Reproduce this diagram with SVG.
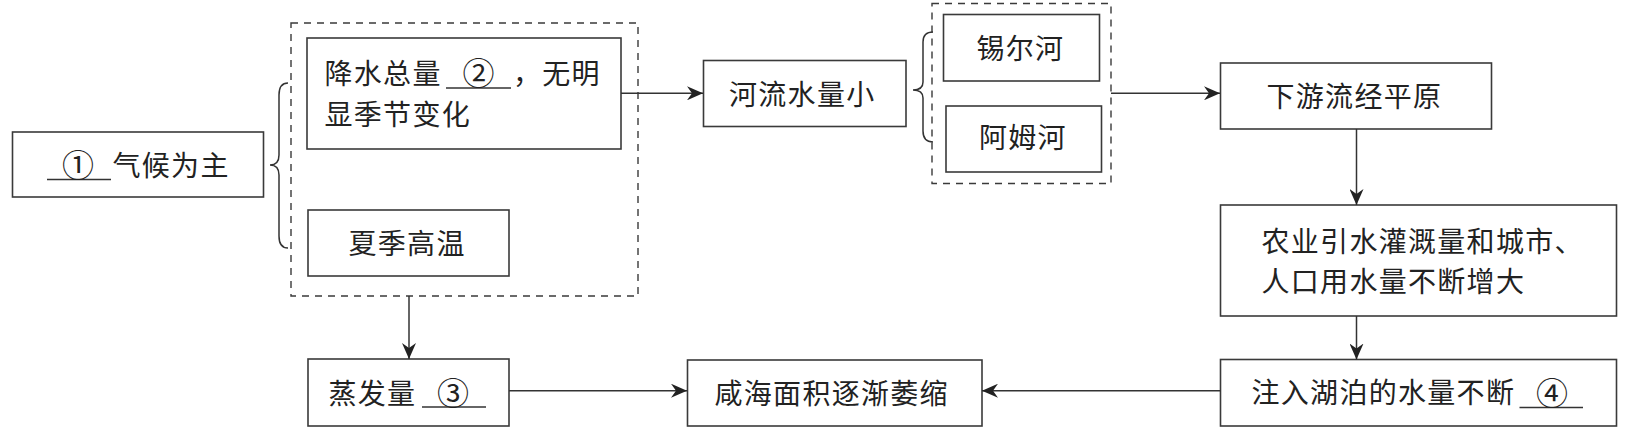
<svg xmlns="http://www.w3.org/2000/svg" width="1627" height="436" viewBox="0 0 1627 436">
<defs>
<style>
.box{fill:#fff;stroke:#3a3a3a;stroke-width:1.6}
.dash{fill:none;stroke:#3a3a3a;stroke-width:1.4;stroke-dasharray:7 6}
.t{font-family:"Liberation Serif","Noto Sans CJK SC",serif;font-size:28px;letter-spacing:1.3px;fill:#222}
.c{font-family:"Liberation Serif","Noto Sans CJK SC",serif;font-size:32px;fill:#222;text-anchor:middle}
.ul{stroke:#333;stroke-width:1.4}
.con{fill:none;stroke:#333;stroke-width:1.5}
.brace{fill:none;stroke:#333;stroke-width:1.5}
</style>
<marker id="arr" viewBox="0 0 16 14" refX="16" refY="7" markerWidth="16" markerHeight="14" markerUnits="userSpaceOnUse" orient="auto">
<path d="M0,0 L16,7 L0,14 L5,7 Z" fill="#222"/>
</marker>
</defs>
<rect width="1627" height="436" fill="#fff"/>

<g id="groups">
<rect id="group1" class="dash" x="291" y="23" width="347" height="273"/>
<rect id="group2" class="dash" x="932" y="3.5" width="179" height="180"/>
<path id="brace1" class="brace" d="M288,83 Q279,83 279,95 L279,155 Q279,165 270,165 Q279,165 279,175 L279,236 Q279,248 288,248"/>
<path id="brace2" class="brace" d="M933,32 Q923,32 923,42 L923,82 Q923,90 913,90 Q923,90 923,98 L923,131 Q923,142 933,142"/>
</g>

<g id="n1">
<rect class="box" x="12.5" y="132" width="251" height="65"/>
<line class="ul" x1="47" y1="179.5" x2="111" y2="179.5"/>
<text class="c" x="78" y="177">①</text>
<text class="t" x="112.5" y="175.5">气候为主</text>
</g>

<g id="n2">
<rect class="box" x="307" y="38" width="314" height="111"/>
<text class="t" x="324.5" y="83.6">降水总量</text>
<line class="ul" x1="446" y1="88" x2="511" y2="88"/>
<text class="c" x="478.6" y="85">②</text>
<text class="t" x="513" y="83.6">，无明</text>
<text class="t" x="324.5" y="124.6">显季节变化</text>
</g>

<g id="n3">
<rect class="box" x="308" y="210" width="201" height="66"/>
<text class="t" x="348.5" y="253.6">夏季高温</text>
</g>

<g id="n4">
<rect class="box" x="308" y="359" width="201" height="67"/>
<text class="t" x="328.5" y="403.6">蒸发量</text>
<line class="ul" x1="422" y1="407" x2="486" y2="407"/>
<text class="c" x="453" y="405">③</text>
</g>

<g id="n5">
<rect class="box" x="703.5" y="60.5" width="202.5" height="66"/>
<text class="t" x="729" y="105">河流水量小</text>
</g>

<g id="n6">
<rect class="box" x="943.5" y="14.5" width="156" height="66.5"/>
<text class="t" x="976.5" y="59">锡尔河</text>
</g>

<g id="n7">
<rect class="box" x="946" y="106" width="155.5" height="66"/>
<text class="t" x="979" y="148">阿姆河</text>
</g>

<g id="n8">
<rect class="box" x="1220.5" y="63" width="271" height="66"/>
<text class="t" x="1266.5" y="106.6">下游流经平原</text>
</g>

<g id="n9">
<rect class="box" x="1220.5" y="205" width="396" height="111"/>
<text class="t" x="1261.5" y="252.3">农业引水灌溉量和城市、</text>
<text class="t" x="1261.5" y="292.3">人口用水量不断增大</text>
</g>

<g id="n10">
<rect class="box" x="1220.5" y="359.5" width="396" height="66.5"/>
<text class="t" x="1251.5" y="403.3">注入湖泊的水量不断</text>
<line class="ul" x1="1519.5" y1="407.5" x2="1583" y2="407.5"/>
<text class="c" x="1552" y="404.7">④</text>
</g>

<g id="n11">
<rect class="box" x="687.5" y="360" width="294.5" height="66"/>
<text class="t" x="714.5" y="404">咸海面积逐渐萎缩</text>
</g>

<g id="connectors">
<line class="con" x1="621" y1="93.3" x2="703" y2="93.3" marker-end="url(#arr)"/>
<line class="con" x1="1111" y1="93.3" x2="1220" y2="93.3" marker-end="url(#arr)"/>
<line class="con" x1="409" y1="296" x2="409" y2="359" marker-end="url(#arr)"/>
<line class="con" x1="1356.5" y1="129" x2="1356.5" y2="205" marker-end="url(#arr)"/>
<line class="con" x1="1356.5" y1="316" x2="1356.5" y2="359.5" marker-end="url(#arr)"/>
<line class="con" x1="509" y1="390.7" x2="687" y2="390.7" marker-end="url(#arr)"/>
<line class="con" x1="1220.5" y1="390.7" x2="982" y2="390.7" marker-end="url(#arr)"/>
</g>
</svg>
